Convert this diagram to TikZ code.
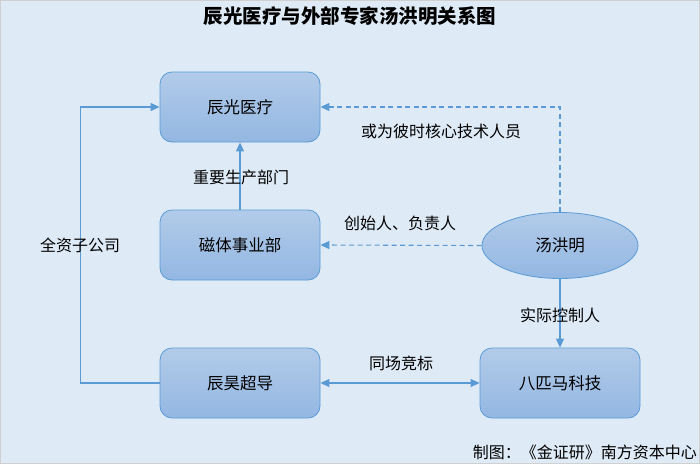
\documentclass[tikz,border=0pt]{standalone}
\usepackage{fontspec}
\newfontfamily\cjk{Noto Sans CJK SC}
\usepackage{tikz}
\usetikzlibrary{positioning,shapes.geometric,arrows.meta}
\definecolor{bgblue}{HTML}{DEEAF6}
\definecolor{frameg}{HTML}{D0D0D0}
\definecolor{edgeb}{HTML}{5B9BD5}
\definecolor{boxtop}{HTML}{B2CBE9}
\definecolor{boxbot}{HTML}{93B7E2}
\tikzset{
  box/.style={rectangle,rounded corners=12pt,draw=edgeb,line width=0.8pt,
    top color=boxtop,bottom color=boxbot,minimum width=160pt,minimum height=70pt,
    font=\cjk\fontsize{16.5}{18}\selectfont},
  person/.style={ellipse,draw=edgeb,line width=0.8pt,top color=boxtop,bottom color=boxbot,
    minimum width=156pt,minimum height=66pt,inner sep=0pt,font=\cjk\fontsize{16.5}{18}\selectfont},
  lab/.style={font=\cjk\fontsize{16}{18}\selectfont,inner sep=0pt},
  link/.style={draw=edgeb,line width=1.1pt,-{Triangle[length=9pt,width=8pt]}},
  dlink/.style={link,dash pattern=on 5pt off 3.5pt}
}

\begin{document}
\begin{tikzpicture}[x=1pt,y=-1pt]
\useasboundingbox (0,0) rectangle (700,464);
\draw[draw=frameg,fill=bgblue,line width=1pt] (0.5,0.5) rectangle (699.5,463.5);
\node[font=\cjk\bfseries\fontsize{19.5}{21}\selectfont] (title) at (350,16) {辰光医疗与外部专家汤洪明关系图};

% companies
\node[box] (chenguang) at (240,107) {辰光医疗};
\node[box] (citi) at (240,245) {磁体事业部};
\node[box] (chenhao) at (240,383) {辰昊超导};
\node[box] (bapima) at (560,383) {八匹马科技};
\node[person] (tang) at (560,245.5) {汤洪明};

% links
\draw[link] (citi.north) -- (chenguang.south);
\draw[link] (chenhao.west) -- ++(-79,0) |- (chenguang.west);
\draw[dlink] (tang.north) |- (chenguang.east);
\draw[dlink] (tang.west) -- (citi.east);
\draw[link] (tang.south) -- (bapima.north);
\draw[link,{Triangle[length=9pt,width=8pt]}-{Triangle[length=9pt,width=8pt]}] (chenhao.east) -- (bapima.west);

% labels
\node[lab] (l1) at (241,177) {重要生产部门};
\node[lab] (l2) at (80,245) {全资子公司};
\node[lab] (l3) at (441,131) {或为彼时核心技术人员};
\node[lab] (l4) at (400,223) {创始人、负责人};
\node[lab] (l5) at (560,315) {实际控制人};
\node[lab] (l6) at (401,363) {同场竞标};
\node[lab,anchor=east] (credit) at (697,452) {制图：《金证研》南方资本中心};
\end{tikzpicture}
\end{document}
